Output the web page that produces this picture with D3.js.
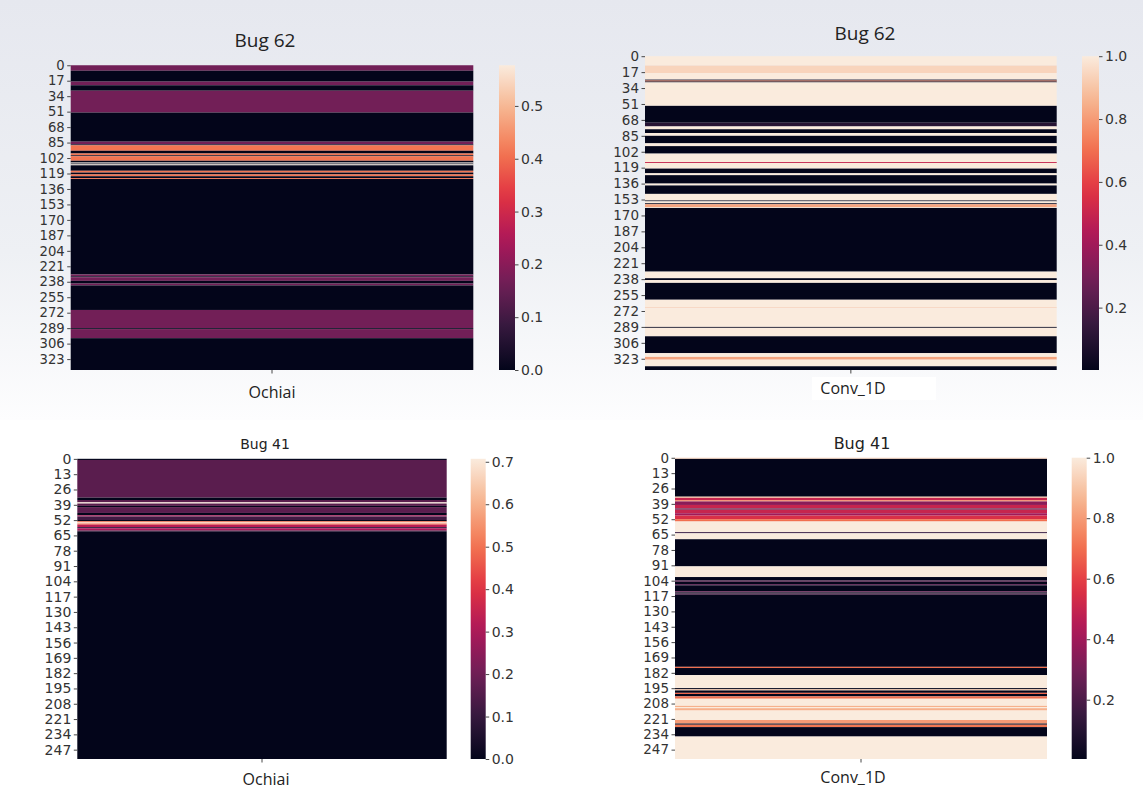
<!DOCTYPE html>
<html>
<head>
<meta charset="utf-8">
<script src="https://cdn.jsdelivr.net/npm/d3@7"></script>
<style>
  body { margin: 0; background: #fff; }
  svg { display: block; }
</style>
</head>
<body>
<div id="chart"></div>
<script>
// each run is [firstRow, lastRow, value]; rows not listed keep the panel's base value
const bug62Ochiai = [
  [0, 5, 0.167], [18, 21, 0.167], [28, 51, 0.167], [84, 86, 0.167],
  [88, 93, 0.41], [97, 98, 0.41], [100, 104, 0.41],
  [107, 107, 0.577], [109, 109, 0.577],
  [116, 117, 0.41], [120, 121, 0.41], [124, 124, 0.41],
  [230, 231, 0.167], [233, 236, 0.167], [240, 241, 0.167],
  [269, 288, 0.167], [290, 299, 0.167]
];
const bug62Conv = [
  [0, 9, 1.0], [10, 17, 0.94], [18, 24, 1.0], [26, 26, 0.72], [28, 52, 1.0],
  [71, 74, 0.1], [75, 77, 1.0], [82, 84, 1.0], [93, 95, 1.0],
  [104, 112, 1.0], [113, 113, 0.5], [114, 119, 1.0], [125, 126, 1.0],
  [136, 137, 1.0], [147, 153, 1.0], [155, 156, 1.0], [158, 160, 0.82],
  [161, 161, 1.0], [230, 236, 1.0], [239, 241, 1.0], [260, 267, 1.0],
  [268, 268, 0.93], [269, 288, 1.0], [290, 298, 1.0], [317, 320, 1.0],
  [321, 323, 0.82], [324, 330, 1.0]
];
const bug41Ochiai = [
  [1, 32, 0.165], [35, 36, 0.165], [37, 37, 0.7], [38, 39, 0.165],
  [41, 45, 0.165], [48, 48, 0.3], [49, 51, 0.12], [53, 53, 0.5],
  [54, 54, 0.68], [55, 55, 0.48], [56, 57, 0.33], [58, 58, 0.1],
  [59, 60, 0.3], [61, 61, 0.08]
];
const bug41Conv = [
  [0, 0, 0.95], [33, 33, 0.9], [34, 35, 0.5], [36, 36, 0.75], [37, 39, 0.35],
  [40, 42, 0.5], [43, 43, 0.2], [44, 46, 0.5], [47, 48, 0.4], [49, 51, 0.55],
  [52, 53, 0.7], [54, 62, 1.0], [63, 63, 0.15], [64, 68, 1.0], [92, 100, 1.0],
  [104, 104, 0.25], [107, 107, 0.22], [113, 113, 0.25], [115, 115, 0.2],
  [177, 177, 0.7], [184, 194, 1.0], [196, 196, 0.9], [199, 199, 0.68],
  [202, 203, 0.7], [204, 209, 1.0], [210, 210, 0.85], [211, 211, 1.0],
  [212, 213, 0.85], [214, 221, 1.0], [222, 224, 0.8], [226, 227, 0.72],
  [236, 254, 1.0]
];

const rowTicks62 = [0, 17, 34, 51, 68, 85, 102, 119, 136, 153, 170, 187, 204, 221, 238, 255, 272, 289, 306, 323];
const rowTicks41 = [0, 13, 26, 39, 52, 65, 78, 91, 104, 117, 130, 143, 156, 169, 182, 195, 208, 221, 234, 247];
const cbTicks62Ochiai = [0.0, 0.1, 0.2, 0.3, 0.4, 0.5];
const cbTicks41Ochiai = [0.0, 0.1, 0.2, 0.3, 0.4, 0.5, 0.6, 0.7];
const cbTicksConv = [0.2, 0.4, 0.6, 0.8, 1.0];

// seaborn "rocket"
const rocket = ['#03051a', '#35193e', '#701f57', '#ad1759', '#e13342', '#f37651', '#f6b48f', '#faebdd'];

const W = 1143, H = 789;

const panels = [
  { id: 'tl', runs: bug62Ochiai, n: 335, base: 0, domain: [0, 0.577], cbTicks: cbTicks62Ochiai, rowTicks: rowTicks62,
    x0: 70.7, x1: 473.3, y0: 65.25, y1: 370, cb: [499, 515], tickFont: 13.2,
    title: 'Bug 62', tx: 265, ty: 47, tFont: 'Open Sans', tSize: 19,
    xlabel: 'Ochiai', lx: 272, ly: 398 },
  { id: 'tr', runs: bug62Conv, n: 335, base: 0.002, domain: [0.0015, 1.0], cbTicks: cbTicksConv, rowTicks: rowTicks62,
    x0: 645, x1: 1056.7, y0: 56.2, y1: 370, cb: [1082, 1099], tickFont: 13.5,
    title: 'Bug 62', tx: 865, ty: 40, tFont: 'Open Sans', tSize: 19,
    xlabel: 'Conv_1D', lx: 853, ly: 394 },
  { id: 'bl', runs: bug41Ochiai, n: 255, base: 0, domain: [0, 0.707], cbTicks: cbTicks41Ochiai, rowTicks: rowTicks41,
    x0: 77.3, x1: 446.7, y0: 458.8, y1: 759, cb: [470.7, 485.7], tickFont: 14,
    title: 'Bug 41', tx: 265, ty: 449, tFont: 'DejaVu Sans', tSize: 14,
    xlabel: 'Ochiai', lx: 266, ly: 785 },
  { id: 'br', runs: bug41Conv, n: 255, base: 0.004, domain: [0.004, 1.0], cbTicks: cbTicksConv, rowTicks: rowTicks41,
    x0: 675, x1: 1047, y0: 457.7, y1: 759, cb: [1071.7, 1086.7], tickFont: 13.5,
    title: 'Bug 41', tx: 862, ty: 449, tFont: 'DejaVu Sans', tSize: 16,
    xlabel: 'Conv_1D', lx: 853, ly: 783 }
];

const svg = d3.select('#chart').append('svg')
  .attr('width', W).attr('height', H);

const defs = svg.append('defs');

// light grey wash behind the upper pair (it was a screenshot)
const bg = defs.append('linearGradient').attr('id', 'topbg')
  .attr('x1', 0).attr('y1', 0).attr('x2', 0).attr('y2', 1);
bg.append('stop').attr('offset', 0).attr('stop-color', '#e6e8ef');
bg.append('stop').attr('offset', 0.6).attr('stop-color', '#eef0f4');
bg.append('stop').attr('offset', 1).attr('stop-color', '#fdfdfe');

svg.append('rect').attr('width', W).attr('height', H).attr('fill', '#fff');
svg.append('rect').attr('width', W).attr('height', 420).attr('fill', 'url(#topbg)');
svg.append('rect').attr('x', 812).attr('y', 377).attr('width', 124).attr('height', 23).attr('fill', '#fff');

const rocketInterp = d3.piecewise(d3.interpolateRgb, rocket);

panels.forEach(p => {
  const values = new Array(p.n).fill(p.base);
  p.runs.forEach(([a, b, v]) => { for (let i = a; i <= b; i++) values[i] = v; });

  // join neighbouring equal rows so no seams show between cells
  const segs = [];
  values.forEach((v, i) => {
    const last = segs[segs.length - 1];
    if (last && last.v === v) last.end = i;
    else segs.push({ start: i, end: i, v });
  });

  const color = d3.scaleSequential(rocketInterp).domain(p.domain).clamp(true);
  const y = d3.scaleBand().domain(d3.range(p.n)).range([p.y0, p.y1]);
  const x = d3.scaleBand().domain([p.xlabel]).range([p.x0, p.x1]);

  const g = svg.append('g');

  g.selectAll('rect.row')
    .data(segs)
    .join('rect')
    .attr('class', 'row')
    .attr('x', x(p.xlabel))
    .attr('width', x.bandwidth())
    .attr('y', d => y(d.start))
    .attr('height', d => y(d.end) - y(d.start) + y.bandwidth())
    .attr('fill', d => color(d.v));

  const yAxis = g.append('g')
    .attr('transform', `translate(${p.x0},0)`)
    .call(d3.axisLeft(y).tickValues(p.rowTicks).tickSize(3.5).tickPadding(2.5));
  yAxis.select('.domain').remove();
  yAxis.selectAll('line').attr('stroke', '#333').attr('stroke-width', 0.9);
  yAxis.selectAll('text').attr('fill', '#333')
    .style('font-family', 'DejaVu Sans').style('font-size', p.tickFont + 'px');

  const xAxis = g.append('g')
    .attr('transform', `translate(0,${p.y1})`)
    .call(d3.axisBottom(x).tickSize(3.5).tickFormat(''));
  xAxis.select('.domain').remove();
  xAxis.selectAll('line').attr('stroke', '#333').attr('stroke-width', 0.9);

  // colour bar
  const grad = defs.append('linearGradient').attr('id', 'cb-' + p.id)
    .attr('x1', 0).attr('y1', 1).attr('x2', 0).attr('y2', 0);
  d3.range(0, 1.0001, 0.05).forEach(t => {
    grad.append('stop').attr('offset', t).attr('stop-color', rocketInterp(t));
  });
  const cbScale = d3.scaleLinear().domain(p.domain).range([p.y1, p.y0]);
  g.append('rect')
    .attr('x', p.cb[0]).attr('width', p.cb[1] - p.cb[0])
    .attr('y', p.y0).attr('height', p.y1 - p.y0)
    .attr('fill', `url(#cb-${p.id})`);
  const cbAxis = g.append('g')
    .attr('transform', `translate(${p.cb[1]},0)`)
    .call(d3.axisRight(cbScale).tickValues(p.cbTicks).tickFormat(d3.format('.1f')).tickSize(3.5).tickPadding(2.5));
  cbAxis.select('.domain').remove();
  cbAxis.selectAll('line').attr('stroke', '#333').attr('stroke-width', 0.9);
  cbAxis.selectAll('text').attr('fill', '#333')
    .style('font-family', 'DejaVu Sans').style('font-size', '14px');

  g.append('text')
    .attr('x', p.tx).attr('y', p.ty)
    .attr('text-anchor', 'middle')
    .attr('fill', '#222')
    .style('font-family', p.tFont).style('font-size', p.tSize + 'px')
    .text(p.title);

  g.append('text')
    .attr('x', p.lx).attr('y', p.ly)
    .attr('text-anchor', 'middle')
    .attr('fill', '#222')
    .style('font-family', 'Open Sans').style('font-size', '16px')
    .text(p.xlabel);
});
</script>
</body>
</html>
